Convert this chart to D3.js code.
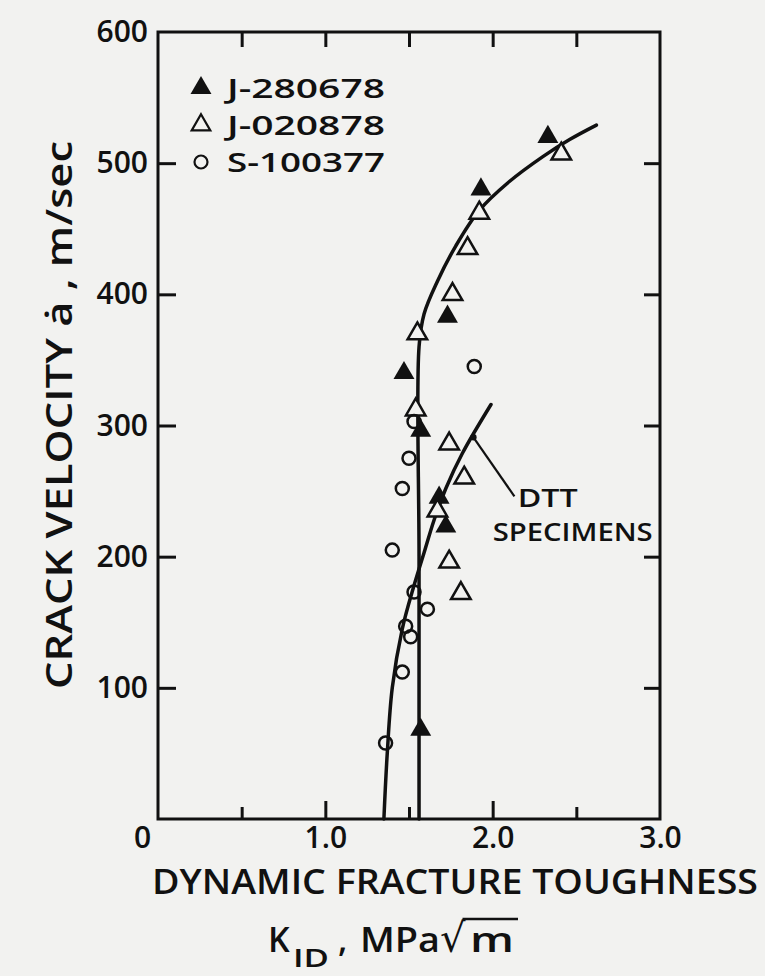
<!DOCTYPE html>
<html>
<head>
<meta charset="utf-8">
<script src="https://cdn.jsdelivr.net/npm/d3@7"></script>
<style>
  body { margin: 0; background: #f2f2f0; }
  svg { display: block; }
  text { font-family: "Open Sans", "DejaVu Sans", sans-serif; font-weight: 600; fill: #111; }
</style>
</head>
<body>
<div id="chart"></div>
<script>
// ---- data ----
const xMajorTicks = [0, 1, 2, 3];
const xMajorLabels = ["0", "1.0", "2.0", "3.0"];
const xMinorTicks = [0.5, 1.5, 2.5];
const yTicks = [100, 200, 300, 400, 500, 600];

const seriesNames = ["J-280678", "J-020878", "S-100377"];

// J-280678 (filled triangles)  [K_ID, crack velocity]
const j280678 = [[2.33, 520], [1.93, 480], [1.73, 383], [1.47, 340], [1.57, 296],
                 [1.68, 245], [1.72, 223], [1.57, 68]];
// J-020878 (open triangles)
const j020878 = [[2.41, 507], [1.92, 462], [1.85, 435], [1.76, 400], [1.55, 370],
                 [1.54, 312], [1.74, 286], [1.83, 260], [1.67, 235], [1.74, 196], [1.81, 172]];
// S-100377 (open circles)
const s100377 = [[1.89, 345], [1.53, 303], [1.50, 275], [1.46, 252], [1.40, 205],
                 [1.53, 173], [1.61, 160], [1.48, 147], [1.51, 139], [1.46, 112], [1.36, 58]];

// hand drawn trend curves
const curveJ = [[1.56, 0], [1.56, 200], [1.56, 360], [1.59, 385], [1.67, 410], [1.78, 437],
                [1.92, 464], [2.10, 486], [2.30, 505], [2.46, 518], [2.62, 529]];
const curveDTT = [[1.35, 0], [1.37, 50], [1.40, 100], [1.46, 145], [1.53, 178], [1.59, 203],
                  [1.65, 228], [1.72, 252], [1.82, 279], [1.99, 316]];
const dttLeader = [[1.885, 291], [2.13, 246]];

const width = 765, height = 976;
const margin = {left: 158, right: 660, top: 32, bottom: 819};

const svg = d3.select("#chart").append("svg")
    .attr("width", width)
    .attr("height", height);

svg.append("rect").attr("width", width).attr("height", height).attr("fill", "#f2f2f0");

const x = d3.scaleLinear().domain([0, 3]).range([margin.left, margin.right]);
const y = d3.scaleLinear().domain([0, 600]).range([margin.bottom, margin.top]);

const ink = "#111";

// frame
svg.append("rect")
    .attr("x", margin.left).attr("y", margin.top)
    .attr("width", margin.right - margin.left).attr("height", margin.bottom - margin.top)
    .attr("fill", "none").attr("stroke", ink).attr("stroke-width", 3);

function styleAxis(g) {
  g.select(".domain").remove();
  g.selectAll(".tick line").attr("stroke", ink).attr("stroke-width", 3);
  g.selectAll(".tick text").attr("fill", ink).style("font-size", "30px");
}

// bottom axis, ticks point inward
svg.append("g")
    .attr("transform", `translate(0,${margin.bottom})`)
    .call(d3.axisBottom(x).tickValues(xMajorTicks)
        .tickFormat((d, i) => xMajorLabels[i])
        .tickSizeInner(-18).tickSizeOuter(0).tickPadding(10))
    .call(styleAxis)
    .call(g => g.selectAll(".tick text").attr("y", 2).attr("dy", "0.9em"))
    .call(g => g.selectAll(".tick").filter(d => d === 0).select("text").attr("dx", -16))
    .call(g => g.selectAll(".tick").filter(d => d === 0 || d === 3).select("line").remove());

svg.append("g")
    .attr("transform", `translate(0,${margin.bottom})`)
    .call(d3.axisBottom(x).tickValues(xMinorTicks).tickFormat("")
        .tickSizeInner(-12).tickSizeOuter(0))
    .call(styleAxis);

// top axis
svg.append("g")
    .attr("transform", `translate(0,${margin.top})`)
    .call(d3.axisTop(x).tickValues(xMinorTicks.concat([1, 2])).tickFormat("")
        .tickSizeInner(-15).tickSizeOuter(0))
    .call(styleAxis);

// left axis
svg.append("g")
    .attr("transform", `translate(${margin.left},0)`)
    .call(d3.axisLeft(y).tickValues(yTicks)
        .tickSizeInner(-18).tickSizeOuter(0).tickPadding(10))
    .call(styleAxis)
    .call(g => g.selectAll(".tick").filter(d => d === 600).select("line").remove());

// right axis
svg.append("g")
    .attr("transform", `translate(${margin.right},0)`)
    .call(d3.axisRight(y).tickValues(yTicks.filter(d => d < 600)).tickFormat("")
        .tickSizeInner(-16).tickSizeOuter(0))
    .call(styleAxis);

// curves
const line = d3.line().x(d => x(d[0])).y(d => y(d[1])).curve(d3.curveCatmullRom.alpha(0.5));
[curveJ, curveDTT].forEach(c => {
  svg.append("path").datum(c)
      .attr("d", line)
      .attr("fill", "none").attr("stroke", ink).attr("stroke-width", 3.5)
      .attr("stroke-linecap", "round");
});

// DTT label + leader
svg.append("path").datum(dttLeader)
    .attr("d", d3.line().x(d => x(d[0])).y(d => y(d[1])))
    .attr("stroke", ink).attr("stroke-width", 2.2);
svg.append("circle")
    .attr("cx", x(dttLeader[0][0])).attr("cy", y(dttLeader[0][1])).attr("r", 3.2)
    .attr("fill", ink);
svg.append("text").attr("x", x(2.15)).attr("y", y(238)).text("DTT")
    .style("font-size", "25px").attr("textLength", 60).attr("lengthAdjust", "spacingAndGlyphs");
svg.append("text").attr("x", x(2.0)).attr("y", y(212)).text("SPECIMENS")
    .style("font-size", "25px").attr("textLength", 160).attr("lengthAdjust", "spacingAndGlyphs");

// markers
const tri = d3.symbol().type(d3.symbolTriangle).size(190);

svg.append("g").selectAll("path").data(j280678).join("path")
    .attr("transform", d => `translate(${x(d[0])},${y(d[1])})`)
    .attr("d", tri)
    .attr("fill", ink);

svg.append("g").selectAll("path").data(j020878).join("path")
    .attr("transform", d => `translate(${x(d[0])},${y(d[1])})`)
    .attr("d", d3.symbol().type(d3.symbolTriangle).size(165))
    .attr("fill", "#f2f2f0").attr("stroke", ink).attr("stroke-width", 2.5);

svg.append("g").selectAll("circle").data(s100377).join("circle")
    .attr("cx", d => x(d[0])).attr("cy", d => y(d[1]))
    .attr("r", 6.5)
    .attr("fill", "none").attr("stroke", ink).attr("stroke-width", 2.5);

// legend
const legendY = [88, 125, 162];
const leg = svg.append("g");
leg.append("path").attr("transform", `translate(201,${legendY[0]})`)
    .attr("d", tri).attr("fill", ink);
leg.append("path").attr("transform", `translate(201,${legendY[1]})`)
    .attr("d", d3.symbol().type(d3.symbolTriangle).size(150))
    .attr("fill", "none").attr("stroke", ink).attr("stroke-width", 2.2);
leg.append("circle").attr("cx", 201).attr("cy", legendY[2]).attr("r", 6.5)
    .attr("fill", "none").attr("stroke", ink).attr("stroke-width", 2.2);
seriesNames.forEach((name, i) => {
  leg.append("text").attr("x", 227).attr("y", legendY[i] + 10)
      .text(name).style("font-size", "27px")
      .attr("textLength", 158).attr("lengthAdjust", "spacingAndGlyphs");
});

// axis titles
svg.append("text")
    .attr("transform", `translate(72,${(140 + 690) / 2}) rotate(-90)`)
    .attr("text-anchor", "middle")
    .style("font-size", "36px")
    .attr("textLength", 548).attr("lengthAdjust", "spacingAndGlyphs")
    .text("CRACK VELOCITY  ȧ , m/sec");

svg.append("text")
    .attr("x", 152).attr("y", 894)
    .style("font-size", "34px")
    .attr("textLength", 606).attr("lengthAdjust", "spacingAndGlyphs")
    .text("DYNAMIC FRACTURE TOUGHNESS");

const kt = svg.append("text").attr("y", 952).style("font-size", "34px");
kt.append("tspan").attr("x", 268).text("K");
kt.append("tspan").attr("x", 293).attr("dy", 15).style("font-size", "25px")
    .attr("textLength", 36).attr("lengthAdjust", "spacingAndGlyphs").text("ID");
kt.append("tspan").attr("x", 338).attr("dy", -15).text(",");
kt.append("tspan").attr("x", 360).attr("textLength", 80).attr("lengthAdjust", "spacingAndGlyphs").text("MPa");
const root = kt.append("tspan").attr("x", 440)
    .style("font-family", "DejaVu Sans").style("font-weight", "400").style("font-size", "40px")
    .text("√");
kt.append("tspan").attr("x", 470).attr("textLength", 44)
    .attr("lengthAdjust", "spacingAndGlyphs").text("m");
// overline of the root sign
const rb = root.node().getExtentOfChar(0);
svg.append("line")
    .attr("x1", rb.x + rb.width - 3).attr("x2", 518)
    .attr("y1", rb.y + 4).attr("y2", rb.y + 4)
    .attr("stroke", ink).attr("stroke-width", 2.5);
</script>
</body>
</html>
